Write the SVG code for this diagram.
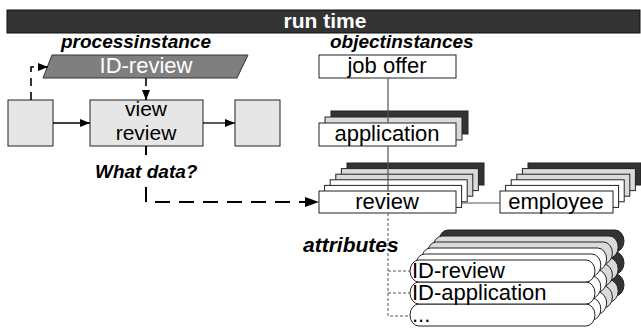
<svg xmlns="http://www.w3.org/2000/svg" width="641" height="329" viewBox="0 0 641 329">
<style>
.t{font-family:"Liberation Sans",Arial,sans-serif;fill:#000}
.lbl{font-family:"Liberation Sans",Arial,sans-serif;font-weight:bold;font-style:italic;font-size:19px;fill:#000}
.box{fill:#e6e6e6;stroke:#222;stroke-width:1}
.fr{fill:#fff;stroke:#222;stroke-width:1}
.wh{fill:#fff;stroke:#222;stroke-width:1}
.gr{fill:#dadada;stroke:#222;stroke-width:1}
.dk{fill:#333;stroke:#222;stroke-width:1}
.sol{fill:none;stroke:#555;stroke-width:1.2}
.dsh{fill:none;stroke:#000;stroke-width:1.6;stroke-dasharray:8,6}
.dshb{fill:none;stroke:#000;stroke-width:2;stroke-dasharray:15,9}
.dot{fill:none;stroke:#555;stroke-width:1;stroke-dasharray:3,2}
.arr{fill:none;stroke:#000;stroke-width:1.3}
</style>
<defs>
<marker id="ah" markerWidth="10" markerHeight="8" refX="10" refY="4" orient="auto" markerUnits="userSpaceOnUse">
<path d="M0,0 L10,4 L0,8 Z" fill="#000"/>
</marker>
<marker id="ahb" markerWidth="14" markerHeight="10" refX="14" refY="5" orient="auto" markerUnits="userSpaceOnUse">
<path d="M0,0 L14,5 L0,10 Z" fill="#000"/>
</marker>
</defs>

<g id="header">
<rect x="7" y="10" width="633" height="23" fill="#333" stroke="#111" stroke-width="1"/>
<text x="325" y="28" text-anchor="middle" class="t" style="font-weight:bold;font-size:21px;fill:#fff">run time</text>
</g>

<g id="labels">
<text x="61" y="48" class="lbl">processinstance</text>
<text x="330" y="48" class="lbl">objectinstances</text>
<text x="95" y="178" class="lbl">What data?</text>
<text x="303" y="252" class="lbl" style="font-size:21px">attributes</text>
</g>

<g id="id-review-process">
<polygon points="52,55 248,55 237,78 43,78" fill="#7f7f7f" stroke="#333" stroke-width="1"/>
<text x="146" y="73" text-anchor="middle" class="t" style="font-size:22px;fill:#fff">ID-review</text>
</g>

<g id="step-left"><rect x="8" y="100" width="45" height="46" class="box"/></g>
<g id="step-view-review">
<rect x="90" y="100" width="113" height="46" class="box"/>
<text x="146" y="116" text-anchor="middle" class="t" style="font-size:21px">view</text>
<text x="146" y="140" text-anchor="middle" class="t" style="font-size:21px">review</text>
</g>
<g id="step-right"><rect x="235" y="100" width="45" height="46" class="box"/></g>

<g id="job-offer">
<rect x="319" y="55" width="137" height="23" class="fr"/>
<text x="387" y="73" text-anchor="middle" class="t" style="font-size:22px">job offer</text>
</g>

<g id="application">
<rect x="331" y="111" width="137" height="23" class="dk"/>
<rect x="325" y="117" width="137" height="23" class="gr"/>
<rect x="319" y="123" width="137" height="23" class="fr"/>
<text x="387" y="141" text-anchor="middle" class="t" style="font-size:22px">application</text>
</g>

<g id="review">
<rect x="347" y="163" width="137" height="22" class="dk"/>
<rect x="341.4" y="168.6" width="137" height="22" class="gr"/>
<rect x="335.8" y="174.2" width="137" height="22" class="gr"/>
<rect x="330.2" y="179.8" width="137" height="22" class="wh"/>
<rect x="324.6" y="185.4" width="137" height="22" class="wh"/>
<rect x="319" y="191" width="137" height="22" class="fr"/>
<text x="387" y="209" text-anchor="middle" class="t" style="font-size:22px">review</text>
</g>

<g id="employee">
<rect x="528" y="163" width="113" height="22" class="dk"/>
<rect x="522.4" y="168.6" width="113" height="22" class="gr"/>
<rect x="516.8" y="174.2" width="113" height="22" class="gr"/>
<rect x="511.2" y="179.8" width="113" height="22" class="wh"/>
<rect x="505.6" y="185.4" width="113" height="22" class="wh"/>
<rect x="500" y="191" width="113" height="22" class="fr"/>
<text x="556" y="209" text-anchor="middle" class="t" style="font-size:22px">employee</text>
</g>

<g id="attr-more">
<rect x="439" y="274" width="185" height="22" rx="9" ry="11" class="dk"/>
<rect x="433.2" y="280" width="185" height="22" rx="9" ry="11" class="gr"/>
<rect x="427.4" y="286" width="185" height="22" rx="9" ry="11" class="gr"/>
<rect x="421.6" y="292" width="185" height="22" rx="9" ry="11" class="wh"/>
<rect x="415.8" y="298" width="185" height="22" rx="9" ry="11" class="wh"/>
<rect x="410" y="304" width="185" height="22" rx="9" ry="11" class="fr"/>
<text x="412" y="322" class="t" style="font-size:22px">...</text>
</g>

<g id="attr-id-application">
<rect x="439" y="252" width="185" height="22" rx="9" ry="11" class="dk"/>
<rect x="433.2" y="258" width="185" height="22" rx="9" ry="11" class="gr"/>
<rect x="427.4" y="264" width="185" height="22" rx="9" ry="11" class="gr"/>
<rect x="421.6" y="270" width="185" height="22" rx="9" ry="11" class="wh"/>
<rect x="415.8" y="276" width="185" height="22" rx="9" ry="11" class="wh"/>
<rect x="410" y="282" width="185" height="22" rx="9" ry="11" class="fr"/>
<text x="412" y="300" class="t" style="font-size:22px">ID-application</text>
</g>

<g id="attr-id-review">
<rect x="439" y="230" width="185" height="22" rx="9" ry="11" class="dk"/>
<rect x="433.2" y="236" width="185" height="22" rx="9" ry="11" class="gr"/>
<rect x="427.4" y="242" width="185" height="22" rx="9" ry="11" class="gr"/>
<rect x="421.6" y="248" width="185" height="22" rx="9" ry="11" class="wh"/>
<rect x="415.8" y="254" width="185" height="22" rx="9" ry="11" class="wh"/>
<rect x="410" y="260" width="185" height="22" rx="9" ry="11" class="fr"/>
<text x="412" y="278" class="t" style="font-size:22px">ID-review</text>
</g>

<g id="connectors">
<path d="M53,123 H90" class="arr" marker-end="url(#ah)"/>
<path d="M203,123 H235" class="arr" marker-end="url(#ah)"/>
<path d="M31,100 V67 H48" class="dsh" marker-end="url(#ah)"/>
<path d="M146,78 V100" class="dsh" marker-end="url(#ah)"/>
<path d="M146,146 V155" class="dshb"/>
<path d="M146,187 V202 H319" class="dshb" marker-end="url(#ahb)"/>
<path d="M388,78 V123 M388,146 V191" class="sol"/>
<path d="M462,203 H500" class="sol"/>
<path d="M388,213 V316 H410 M388,271 H410 M388,293 H410" class="dot"/>
</g>
</svg>
